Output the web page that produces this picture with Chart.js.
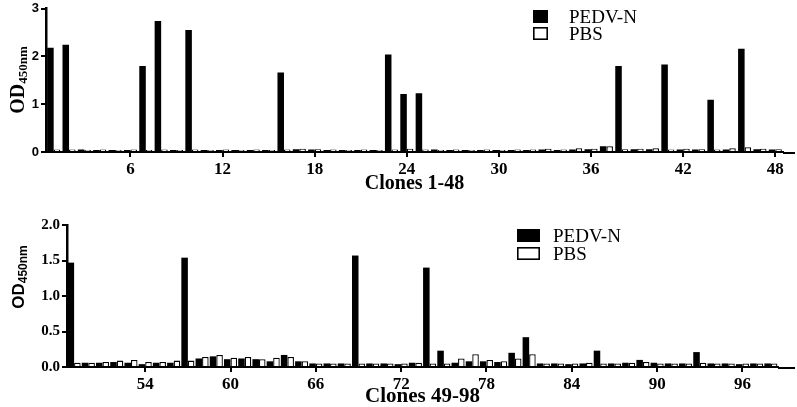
<!DOCTYPE html>
<html>
<head>
<meta charset="utf-8">
<script src="https://cdn.jsdelivr.net/npm/chart.js@4.4.0/dist/chart.umd.min.js"></script>
<style>
  html, body { margin: 0; padding: 0; background: #fff; }
  #wrap { position: relative; width: 797px; height: 407px; }
  .panel { position: absolute; left: 0; width: 797px; }
  #top { top: 0; height: 200px; }
  #bottom { top: 203px; height: 204px; }
</style>
</head>
<body>
<div id="wrap">
  <div class="panel" id="top"><canvas id="chartTop"></canvas></div>
  <div class="panel" id="bottom"><canvas id="chartBottom"></canvas></div>
</div>
<script>
// ================= DATA =================
const seriesNames = ["PEDV-N", "PBS"];
const yTitleMain = "OD";
const yTitleSub = "450nm";

// clones 1-48
const clonesTop = Array.from({ length: 48 }, (_, i) => String(i + 1));
const shownTop = ["6", "12", "18", "24", "30", "36", "42", "48"];
const pedvTop = [
  2.18, 2.24, 0.05, 0.04, 0.04, 0.04, 1.80, 2.74, 0.04, 2.55,
  0.04, 0.04, 0.04, 0.04, 0.04, 1.66, 0.06, 0.05, 0.04, 0.04,
  0.04, 0.04, 2.04, 1.21, 1.23, 0.05, 0.04, 0.04, 0.04, 0.04,
  0.04, 0.04, 0.05, 0.04, 0.05, 0.06, 0.12, 1.80, 0.06, 0.06,
  1.83, 0.05, 0.05, 1.09, 0.05, 2.16, 0.06, 0.05
];
const pbsTop = [
  0.05, 0.05, 0.04, 0.05, 0.04, 0.05, 0.04, 0.05, 0.04, 0.05,
  0.04, 0.05, 0.04, 0.05, 0.04, 0.05, 0.07, 0.06, 0.05, 0.04,
  0.05, 0.04, 0.05, 0.07, 0.05, 0.04, 0.05, 0.04, 0.05, 0.04,
  0.05, 0.05, 0.07, 0.05, 0.08, 0.07, 0.12, 0.06, 0.07, 0.08,
  0.05, 0.07, 0.06, 0.05, 0.08, 0.10, 0.07, 0.06
];

// clones 49-98
const clonesBottom = Array.from({ length: 50 }, (_, i) => String(i + 49));
const shownBottom = ["54", "60", "66", "72", "78", "84", "90", "96"];
const pedvBottom = [
  1.47, 0.06, 0.06, 0.07, 0.06, 0.04, 0.06, 0.06, 1.54, 0.12,
  0.15, 0.11, 0.12, 0.11, 0.08, 0.17, 0.08, 0.05, 0.05, 0.05,
  1.57, 0.05, 0.05, 0.04, 0.06, 1.40, 0.23, 0.06, 0.08, 0.08,
  0.07, 0.20, 0.42, 0.05, 0.05, 0.04, 0.05, 0.23, 0.05, 0.06,
  0.10, 0.06, 0.05, 0.05, 0.21, 0.05, 0.05, 0.04, 0.05, 0.05
];
const pbsBottom = [
  0.06, 0.06, 0.07, 0.09, 0.10, 0.07, 0.07, 0.09, 0.09, 0.14,
  0.17, 0.13, 0.14, 0.11, 0.13, 0.14, 0.08, 0.05, 0.05, 0.05,
  0.05, 0.05, 0.05, 0.05, 0.06, 0.05, 0.05, 0.12, 0.18, 0.10,
  0.08, 0.12, 0.18, 0.05, 0.05, 0.05, 0.06, 0.05, 0.05, 0.06,
  0.07, 0.05, 0.05, 0.05, 0.06, 0.05, 0.05, 0.05, 0.05, 0.05
];

const SERIF = "'Liberation Serif', 'Times New Roman', serif";
const SANS = "'Liberation Sans', Arial, sans-serif";

// ================= PLUGINS =================
// legend with plain boxes, placed inside the plot
const boxLegend = {
    id: "boxLegend",
    afterDraw(chart, args, opts) {
        const ctx = chart.ctx;
        ctx.save();
        chart.data.datasets.forEach((ds, i) => {
            const y = opts.y + i * opts.gap;
            ctx.fillStyle = ds.backgroundColor;
            ctx.fillRect(opts.x, y, opts.boxW, opts.boxH);
            ctx.strokeStyle = "#000";
            ctx.lineWidth = 1.6;
            ctx.strokeRect(opts.x + 0.8, y + 0.8, opts.boxW - 1.6, opts.boxH - 1.6);
            ctx.fillStyle = "#000";
            ctx.font = opts.font;
            ctx.textAlign = "left";
            ctx.textBaseline = "alphabetic";
            ctx.fillText(ds.label, opts.textX, y + opts.boxH);
        });
        ctx.restore();
    }
};

// rotated y title with subscript
const odTitle = {
    id: "odTitle",
    afterDraw(chart, args, opts) {
        const ctx = chart.ctx;
        ctx.save();
        ctx.translate(opts.x, opts.y);
        ctx.rotate(-Math.PI / 2);
        ctx.font = opts.mainFont;
        const w1 = ctx.measureText(yTitleMain).width;
        ctx.font = opts.subFont;
        const w2 = ctx.measureText(yTitleSub).width;
        const start = -(w1 + w2) / 2;
        ctx.fillStyle = "#000";
        ctx.textAlign = "left";
        ctx.textBaseline = "alphabetic";
        ctx.font = opts.mainFont;
        ctx.fillText(yTitleMain, start, 0);
        ctx.font = opts.subFont;
        ctx.fillText(yTitleSub, start + w1, opts.subShift);
        ctx.restore();
    }
};

// x axis line runs a bit past the last clone
const axisRun = {
    id: "axisRun",
    afterDraw(chart, args, opts) {
        const ctx = chart.ctx;
        const a = chart.chartArea;
        ctx.save();
        ctx.strokeStyle = "#000";
        ctx.lineWidth = 2;
        ctx.beginPath();
        ctx.moveTo(a.right, a.bottom + 1);
        ctx.lineTo(opts.to, a.bottom + 1);
        ctx.stroke();
        ctx.restore();
    }
};

// ================= CHART FUNCTION =================
function renderPanel(canvasId, p) {
    const labels = p.labels;
    new Chart(document.getElementById(canvasId), {
        type: "bar",
        data: {
            labels: labels,
            datasets: [
                { label: seriesNames[0], data: p.pedv, backgroundColor: "#000", borderWidth: 0 },
                { label: seriesNames[1], data: p.pbs, backgroundColor: "#fff", borderColor: "#000", borderWidth: 1.3 }
            ]
        },
        options: {
            responsive: true,
            maintainAspectRatio: false,
            animation: false,
            datasets: { bar: { categoryPercentage: p.catPct, barPercentage: 1 } },
            layout: { padding: p.padding },
            plugins: {
                legend: { display: false },
                tooltip: { enabled: false },
                boxLegend: p.legend,
                odTitle: p.yTitle,
                axisRun: { to: 795 }
            },
            scales: {
                x: {
                    offset: true,
                    grid: {
                        offset: false,
                        drawOnChartArea: false,
                        drawTicks: true,
                        tickLength: 5,
                        lineWidth: 2,
                        color: c => (c.tick && p.shown.includes(labels[c.tick.value])) ? "#000" : "rgba(0,0,0,0)"
                    },
                    border: { color: "#000", width: 2 },
                    ticks: {
                        autoSkip: false,
                        maxRotation: 0,
                        padding: 2,
                        color: "#000",
                        font: { family: SERIF, size: 17, weight: "bold" },
                        callback: function (v) {
                            const l = this.getLabelForValue(v);
                            return p.shown.includes(l) ? l : "";
                        }
                    },
                    title: {
                        display: true,
                        text: p.xTitle,
                        color: "#000",
                        font: { family: SERIF, size: p.xTitleSize, weight: "bold", lineHeight: 1 },
                        padding: { top: 0, bottom: p.xTitlePad }
                    },
                    afterFit: s => { s.height = p.xHeight; }
                },
                y: {
                    min: 0,
                    max: p.yMax,
                    ticks: {
                        stepSize: p.yStep,
                        padding: 2,
                        color: "#000",
                        font: p.yFont,
                        callback: p.yFmt
                    },
                    grid: { drawOnChartArea: false, drawTicks: true, tickLength: 5, lineWidth: 2, color: "#000" },
                    border: { color: "#000", width: 2.5 },
                    afterFit: s => { s.width = p.yWidth; }
                }
            }
        },
        plugins: [boxLegend, odTitle, axisRun]
    });
}

// ================= INIT =================
renderPanel("chartTop", {
    labels: clonesTop,
    shown: shownTop,
    pedv: pedvTop,
    pbs: pbsTop,
    catPct: 0.85,
    padding: { top: 0, right: 14, left: 0, bottom: 0 },
    xTitle: "Clones 1-48",
    xTitleSize: 20,
    xTitlePad: 6,
    xHeight: 48,
    yMax: 3,
    yStep: 1,
    yFont: { family: SANS, size: 13, weight: "bold", lineHeight: 1 },
    yFmt: v => String(v),
    yWidth: 46,
    legend: { x: 533, y: 10, gap: 17, boxW: 15, boxH: 13, textX: 569, font: "19px " + SERIF },
    yTitle: { x: 24, y: 80, subShift: 3, mainFont: "bold 20px " + SERIF, subFont: "bold 13px " + SERIF }
});

renderPanel("chartBottom", {
    labels: clonesBottom,
    shown: shownBottom,
    pedv: pedvBottom,
    pbs: pbsBottom,
    catPct: 0.92,
    padding: { top: 22, right: 19, left: 0, bottom: 0 },
    xTitle: "Clones 49-98",
    xTitleSize: 21,
    xTitlePad: 0,
    xHeight: 40,
    yMax: 2,
    yStep: 0.5,
    yFont: { family: SERIF, size: 15, weight: "bold", lineHeight: 1 },
    yFmt: v => v.toFixed(1),
    yWidth: 67,
    legend: { x: 517, y: 26, gap: 18, boxW: 23, boxH: 13, textX: 553, font: "19px " + SERIF },
    yTitle: { x: 24, y: 74, subShift: 3, mainFont: "bold 17px " + SANS, subFont: "bold 12px " + SANS }
});
</script>
</body>
</html>
